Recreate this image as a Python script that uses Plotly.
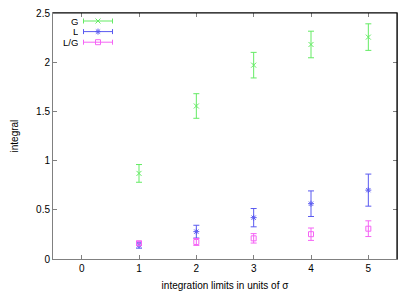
import plotly.graph_objects as go

x_vals = [1, 2, 3, 4, 5]
g_vals = [0.87, 1.555, 1.97, 2.18, 2.255]
g_err = [0.09, 0.125, 0.13, 0.135, 0.135]
l_vals = [0.14, 0.278, 0.42, 0.562, 0.70]
l_err = [0.03, 0.065, 0.093, 0.13, 0.163]
lg_vals = [0.16, 0.173, 0.21, 0.252, 0.308]
lg_err = [0.02, 0.035, 0.048, 0.063, 0.08]
x_ticks = [0, 1, 2, 3, 4, 5]
y_ticks = [0, 0.5, 1, 1.5, 2, 2.5]
y_tick_labels = ["0", "0.5", "1", "1.5", "2", "2.5"]
series_names = ["G", "L", "L/G"]

GREEN = "rgb(100,235,100)"
BLUE = "rgb(90,90,240)"
MAGENTA = "rgb(245,100,245)"
GRAY = "rgb(128,128,128)"
FONT = "Liberation Sans, Arial, sans-serif"

fig = go.Figure()

def add_series(yv, ev, color, symbol, name):
    fig.add_trace(go.Scatter(
        x=x_vals, y=yv, mode="markers", name=name, showlegend=False,
        marker=dict(symbol=symbol, size=5, color=color,
                    line=dict(color=color, width=1)),
        error_y=dict(type="data", array=ev, visible=True, color=color,
                     thickness=1, width=3),
    ))

add_series(g_vals, g_err, GREEN, "x-thin", series_names[0])
add_series(l_vals, l_err, BLUE, "asterisk", series_names[1])
add_series(lg_vals, lg_err, MAGENTA, "square-open", series_names[2])

# custom gnuplot-style key on a helper axis in pixel-like units
colors = [GREEN, BLUE, MAGENTA]
symbols = ["x-thin", "asterisk", "square-open"]
key_y = [21.0, 31.6, 42.2]
for i, name in enumerate(series_names):
    fig.add_trace(go.Scatter(
        x=[98], y=[key_y[i]], mode="markers", xaxis="x3", yaxis="y3",
        showlegend=False, hoverinfo="skip",
        marker=dict(symbol=symbols[i], size=5, color=colors[i],
                    line=dict(color=colors[i], width=1)),
        error_x=dict(type="constant", value=14.5, visible=True,
                     color=colors[i], thickness=1, width=2.5),
    ))
    fig.add_annotation(x=78.5, y=key_y[i], xref="x3", yref="y3", text=name,
                       showarrow=False, xanchor="right", yanchor="middle",
                       height=9, borderpad=0,
                       font=dict(family=FONT, size=9.5, color="black"))

# y-axis title placed as in the reference (paper coords, left of plot area)
fig.add_annotation(x=-0.112, y=0.5, xref="paper", yref="paper", text="integral",
                   showarrow=False, textangle=-90, xanchor="center",
                   yanchor="middle", font=dict(family=FONT, size=10,
                                               color="black"))

# page body has an 8px default margin; size the figure so it fits the window
fig.update_layout(
    width=407, height=283,
    margin=dict(l=45, r=18, t=5, b=32, autoexpand=False),
    paper_bgcolor="white", plot_bgcolor="rgba(0,0,0,0)",
    font=dict(family=FONT, size=10, color="black"),
    xaxis=dict(range=[-0.5, 5.5], tickvals=x_ticks, ticks="inside", ticklen=4,
               tickcolor=GRAY, showline=True, linecolor=GRAY, linewidth=1,
               mirror="ticks", showgrid=False, zeroline=False, automargin=False,
               ticklabeloverflow="allow",
               title=dict(text="integration limits in units of σ", standoff=8,
                          font=dict(size=10)),
               tickfont=dict(size=10)),
    yaxis=dict(range=[0, 2.5], tickvals=y_ticks, ticktext=y_tick_labels,
               ticks="inside", ticklen=4, tickcolor=GRAY, showline=True,
               linecolor=GRAY, linewidth=1, mirror="ticks", showgrid=False,
               zeroline=False, automargin=False, ticklabeloverflow="allow",
               tickfont=dict(size=10)),
    xaxis3=dict(domain=[0, 1], range=[53, 397], visible=False, fixedrange=True,
                overlaying="x", anchor="y3", automargin=False),
    yaxis3=dict(domain=[0, 1], range=[259, 13], visible=False, fixedrange=True,
                overlaying="y", anchor="x3", automargin=False),
    shapes=[
        dict(type="line", xref="paper", yref="paper", x0=0, x1=1, y0=1, y1=1,
             line=dict(color="black", width=1.2), layer="above"),
        dict(type="line", xref="paper", yref="paper", x0=1, x1=1, y0=0, y1=1,
             line=dict(color="black", width=1.2), layer="above"),
    ],
)

fig.write_html("out.html")
